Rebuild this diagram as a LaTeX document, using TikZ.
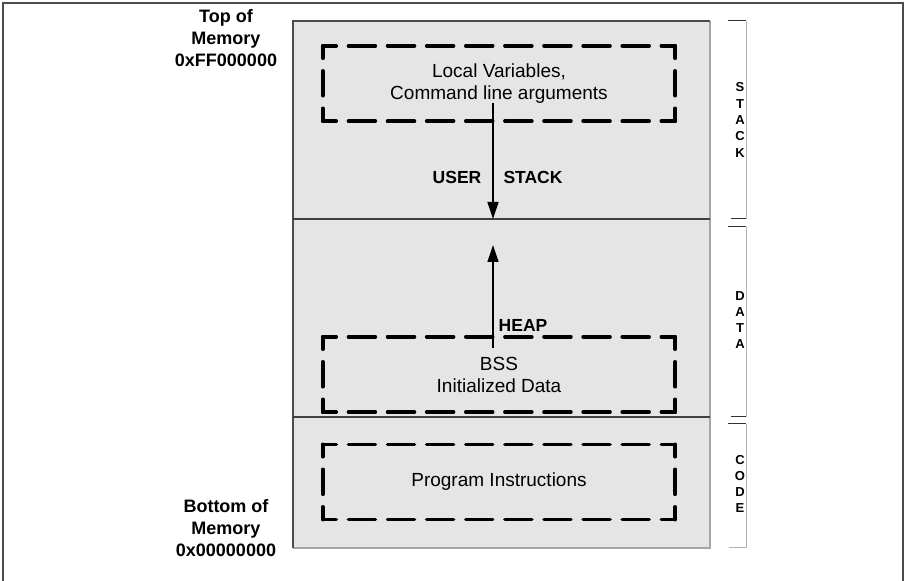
\documentclass[tikz,border=0pt]{standalone}
\usepackage{fontspec}
\setmainfont{Liberation Sans}
\usetikzlibrary{calc,arrows.meta}

\begin{document}
\begin{tikzpicture}[x=1pt,y=1pt,
  dashbox/.style={minimum width=352pt,minimum height=75pt,inner sep=0pt,
    font=\fontsize{19}{22}\selectfont,align=center},
  hdash/.style={line width=3.5pt,line cap=round,dash pattern=on 27pt off 12.11pt,dash phase=13.5pt},
  vdash/.style={line width=3.5pt,line cap=round,dash pattern=on 25pt off 12.5pt,dash phase=12.5pt},
  growlabel/.style={font=\bfseries\fontsize{17.5}{21}\selectfont},
  memlabel/.style={font=\bfseries\fontsize{18}{22}\selectfont,align=center},
  sidelabel/.style={font=\bfseries\fontsize{13}{16.3}\selectfont,align=center},
  growarrow/.style={-{Triangle[length=17pt,width=11pt]},line width=1.3pt}
]
\useasboundingbox (0,0) rectangle (908,581);

\draw[line width=2pt,black!70] (3,0) -- (3,578) -- (903,578) -- (903,0);

\coordinate (bl) at (293,33);
\coordinate (tr) at (710,560);
\coordinate (sl) at (293,362);
\coordinate (sr) at (710,362);
\coordinate (dl) at (293,164);
\coordinate (dr) at (710,164);

\fill[black!10] (bl) rectangle (tr);
\draw[black!35,line width=1.2pt] (bl) -| (tr);
\draw[black!70,line width=1.2pt] (bl) |- (tr);
\draw[black!75,line width=1.2pt] (sl) -- (sr);
\draw[black!75,line width=1.2pt] (dl) -- (dr);

\node[dashbox] (localbox) at (499,497.5) {Local Variables,\\Command line arguments};
\node[dashbox] (bssbox) at (499,206.5) {BSS\\Initialized Data};
\node[dashbox] (codebox) at (499,99) {Program Instructions};

\foreach \b in {localbox,bssbox,codebox} {
  \draw[hdash] (\b.north west) -- (\b.north east);
  \draw[hdash] (\b.south west) -- (\b.south east);
  \draw[vdash] (\b.north west) -- (\b.south west);
  \draw[vdash] (\b.north east) -- (\b.south east);
}

\coordinate (ustart) at (493,478);
\coordinate (uend) at (493,362);
\coordinate (hstart) at (493,233);
\coordinate (hend) at (493,336);
\draw[growarrow] (ustart) -- (uend);
\draw[growarrow] (hstart) -- (hend);

\node[growlabel] (user) at (457,404) {USER};
\node[growlabel] (stack) at (533,404) {STACK};
\node[growlabel] (heap) at (523,256) {HEAP};

\node[memlabel] (topmem) at (226,543) {Top of\\Memory\\0xFF000000};
\node[memlabel] (botmem) at (226,53) {Bottom of\\Memory\\0x00000000};

% segment brackets
\draw[black!30,line width=1pt] (746,560) -- (746,362);
\draw[black!30,line width=1pt] (746,354) -- (746,164);
\draw[black!30,line width=1pt] (746,157) -- (746,33);
\draw[black!80,line width=1pt] (728,560) -- (746,560);
\draw[black!80,line width=1pt] (731,362) -- (746,362);
\draw[black!80,line width=1pt] (728,354) -- (746,354);
\draw[black!80,line width=1pt] (731,164) -- (746,164);
\draw[black!80,line width=1pt] (728,157) -- (746,157);
\draw[black!30,line width=1pt] (729,33) -- (746,33);

\node[sidelabel] (stackside) at (740,461) {S\\T\\A\\C\\K};
\node[sidelabel] (dataside) at (740,261) {D\\A\\T\\A};
\node[sidelabel] (codeside) at (740,97) {C\\O\\D\\E};

\end{tikzpicture}
\end{document}
